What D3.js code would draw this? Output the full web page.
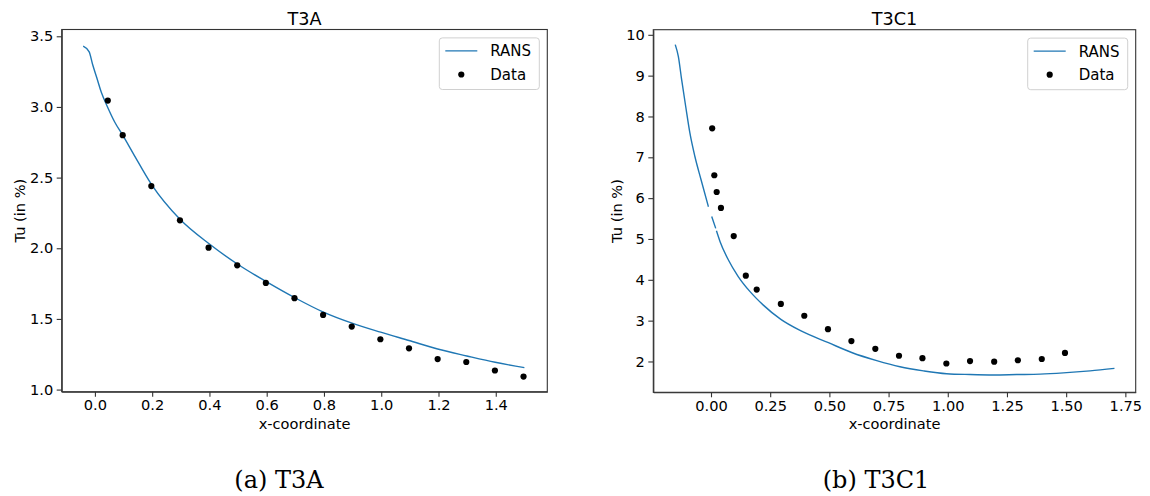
<!DOCTYPE html>
<html>
<head>
<meta charset="utf-8">
<script src="https://cdnjs.cloudflare.com/ajax/libs/d3/7.8.5/d3.min.js"></script>
<style>
body { margin: 0; background: #fff; }
svg { display: block; font-family: 'DejaVu Sans', sans-serif; }
.axis path, .axis line { stroke: #333; stroke-width: 1.1; }
.axis text { font-size: 14.6px; fill: #000; font-family: 'DejaVu Sans', sans-serif; }
.frame { fill: none; stroke: #333; stroke-width: 1.1; }
.rans { fill: none; stroke: #1f77b4; stroke-width: 1.4; }
.dot { fill: #000; }
.lbl { font-size: 14.6px; fill: #000; }
.ttl { font-size: 17.6px; fill: #000; }
.cap { font-family: 'DejaVu Serif', serif; font-size: 24px; fill: #000; }
</style>
</head>
<body>
<svg></svg>
<script>
// T3A
const t3aRansX = [-0.041, -0.020, -0.008, 0.006, 0.023, 0.044, 0.070, 0.097, 0.134, 0.198, 0.297, 0.400, 0.500, 0.600, 0.700, 0.796, 0.898, 0.998, 1.097, 1.197, 1.299, 1.398, 1.500];
const t3aRansY = [3.43, 3.39, 3.30, 3.21, 3.10, 3.00, 2.89, 2.80, 2.67, 2.45, 2.205, 2.03, 1.885, 1.762, 1.648, 1.55, 1.47, 1.406, 1.347, 1.287, 1.238, 1.193, 1.155];
const t3aDataX = [0.045, 0.097, 0.197, 0.297, 0.397, 0.497, 0.597, 0.697, 0.797, 0.897, 0.997, 1.097, 1.197, 1.297, 1.397, 1.497];
const t3aDataY = [3.045, 2.80, 2.44, 2.198, 2.004, 1.879, 1.755, 1.647, 1.528, 1.446, 1.356, 1.292, 1.216, 1.195, 1.135, 1.092];
const t3aXTicks = [0.0, 0.2, 0.4, 0.6, 0.8, 1.0, 1.2, 1.4];
const t3aYTicks = [1.0, 1.5, 2.0, 2.5, 3.0, 3.5];

// T3C1 (null = gap in the RANS line)
const t3c1RansX = [-0.151, -0.138, -0.124, -0.107, -0.089, -0.068, -0.042, -0.011, null, 0.003, 0.020, null, 0.023, 0.038, 0.073, 0.115, 0.165, 0.221, 0.295, 0.376, 0.496, 0.594, 0.700, 0.798, 0.897, 0.995, 1.094, 1.193, 1.291, 1.390, 1.488, 1.601, 1.704];
const t3c1RansY = [9.76, 9.47, 8.90, 8.25, 7.59, 7.02, 6.45, 5.79, null, 5.55, 5.26, null, 5.20, 4.94, 4.49, 4.08, 3.71, 3.38, 3.03, 2.76, 2.46, 2.22, 2.02, 1.87, 1.77, 1.70, 1.68, 1.67, 1.68, 1.69, 1.72, 1.77, 1.83];
const t3c1DataX = [0.005, 0.014, 0.024, 0.042, 0.096, 0.147, 0.193, 0.295, 0.394, 0.494, 0.593, 0.694, 0.794, 0.893, 0.994, 1.094, 1.196, 1.296, 1.397, 1.495];
const t3c1DataY = [7.71, 6.56, 6.15, 5.76, 5.07, 4.10, 3.76, 3.41, 3.12, 2.79, 2.50, 2.31, 2.14, 2.08, 1.95, 2.01, 1.995, 2.03, 2.06, 2.21];
const t3c1XTicks = [0.00, 0.25, 0.50, 0.75, 1.00, 1.25, 1.50, 1.75];
const t3c1YTicks = [2, 3, 4, 5, 6, 7, 8, 9, 10];

const legendLabels = ['RANS', 'Data'];

let width = 1150;
let height = 496;

let svg = d3.select('svg')
    .attr('width', width)
    .attr('height', height);

let drawPanel = (p) => {
    let xScale = d3.scaleLinear().domain(p.xDomain).range([p.left, p.right]);
    let yScale = d3.scaleLinear().domain(p.yDomain).range([p.bottom, p.top]);

    let g = svg.append('g');

    let xAxis = d3.axisBottom(xScale).tickValues(p.xTicks).tickFormat(d3.format(p.xFmt))
        .tickSize(5).tickSizeOuter(0).tickPadding(3);
    let yAxis = d3.axisLeft(yScale).tickValues(p.yTicks).tickFormat(d3.format(p.yFmt))
        .tickSize(5).tickSizeOuter(0).tickPadding(3.5);

    g.append('g').attr('class', 'axis')
        .attr('transform', 'translate(0,' + p.bottom + ')')
        .call(xAxis);
    g.append('g').attr('class', 'axis')
        .attr('transform', 'translate(' + p.left + ',0)')
        .call(yAxis);

    g.append('rect').attr('class', 'frame')
        .attr('x', p.left).attr('y', p.top)
        .attr('width', p.right - p.left).attr('height', p.bottom - p.top);

    let pts = p.ransX.map((x, i) => [x, p.ransY[i]]);
    let line = d3.line()
        .defined((d) => d[0] !== null && d[1] !== null)
        .x((d) => xScale(d[0]))
        .y((d) => yScale(d[1]))
        .curve(d3.curveMonotoneX);
    g.append('path').attr('class', 'rans').attr('d', line(pts));

    g.selectAll('circle.dot')
        .data(p.dataX.map((x, i) => [x, p.dataY[i]]))
        .enter()
        .append('circle')
            .attr('class', 'dot')
            .attr('cx', (d) => xScale(d[0]))
            .attr('cy', (d) => yScale(d[1]))
            .attr('r', 3.1);

    // legend
    let lx = p.right - 8 - 100;
    let ly = p.top + 8.4;
    g.append('rect')
        .attr('x', lx).attr('y', ly).attr('width', 100).attr('height', 51.6)
        .attr('rx', 3)
        .attr('fill', '#fff').attr('fill-opacity', 0.8)
        .attr('stroke', '#d0d0d0').attr('stroke-width', 1);
    g.append('line')
        .attr('x1', lx + 6).attr('x2', lx + 38)
        .attr('y1', ly + 13).attr('y2', ly + 13)
        .attr('stroke', '#1f77b4').attr('stroke-width', 1.4);
    g.append('circle').attr('class', 'dot')
        .attr('cx', lx + 22).attr('cy', ly + 36.6).attr('r', 3.1);
    legendLabels.forEach((t, i) => {
        g.append('text').attr('class', 'lbl')
            .attr('x', lx + 51).attr('y', ly + 13 + i * 23.6)
            .attr('dy', '0.36em')
            .style('font-size', '15px')
            .text(t);
    });

    // title and labels
    let cx = (p.left + p.right) / 2;
    g.append('text').attr('class', 'ttl')
        .attr('x', cx).attr('y', 25.3)
        .attr('text-anchor', 'middle')
        .text(p.title);
    g.append('text').attr('class', 'lbl')
        .attr('x', cx).attr('y', 429.3)
        .attr('text-anchor', 'middle')
        .text('x-coordinate');
    g.append('text').attr('class', 'lbl')
        .attr('transform', 'translate(' + p.ylabelX + ',' + ((p.top + p.bottom) / 2) + ') rotate(-90)')
        .attr('text-anchor', 'middle')
        .text('Tu (in %)');
    g.append('text').attr('class', 'cap')
        .attr('x', p.capX).attr('y', 488)
        .attr('text-anchor', 'middle')
        .text(p.caption);
};

drawPanel({
    left: 61.7, right: 547.3, top: 29.5, bottom: 391.7,
    xDomain: [-0.116, 1.580], yDomain: [0.985, 3.548],
    xTicks: t3aXTicks, yTicks: t3aYTicks, xFmt: '.1f', yFmt: '.1f',
    ransX: t3aRansX, ransY: t3aRansY, dataX: t3aDataX, dataY: t3aDataY,
    title: 'T3A', ylabelX: 25, caption: '(a) T3A', capX: 279
});

drawPanel({
    left: 653.3, right: 1135.7, top: 29.7, bottom: 392.3,
    xDomain: [-0.2437, 1.7937], yDomain: [1.245, 10.125],
    xTicks: t3c1XTicks, yTicks: t3c1YTicks, xFmt: '.2f', yFmt: 'd',
    ransX: t3c1RansX, ransY: t3c1RansY, dataX: t3c1DataX, dataY: t3c1DataY,
    title: 'T3C1', ylabelX: 622, caption: '(b) T3C1', capX: 876
});
</script>
</body>
</html>
